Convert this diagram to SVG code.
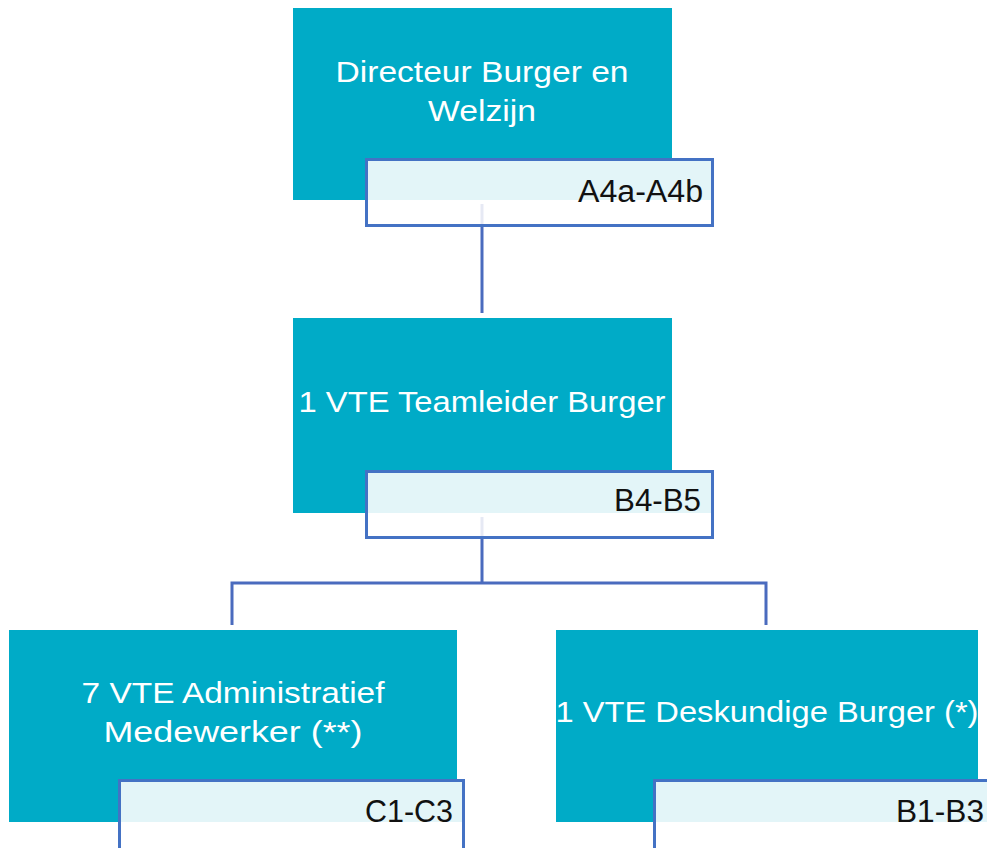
<svg xmlns="http://www.w3.org/2000/svg" width="987" height="848" viewBox="0 0 987 848">
<style>
.node{fill:#00ABC7}
.lbl{fill:#FFFFFF;stroke:#4472C4;stroke-width:3}
.band{fill:#E3F5F8}
.t{font-family:"Liberation Sans",Arial,sans-serif;font-size:30px;fill:#FFFFFF;text-anchor:middle}
.c{font-family:"Liberation Sans",Arial,sans-serif;font-size:31px;fill:#111111;text-anchor:end}
.con{fill:none;stroke:#4A6BBE;stroke-width:3}
.faint{fill:none;stroke:#E6E9F4;stroke-width:3}
</style>
<rect width="987" height="848" fill="#FFFFFF"/>
<g id="connectors">
<line class="con" x1="482" y1="226" x2="482" y2="313"/>
<path class="con" d="M482 538 V583 M232 625 V583 H766 V625"/>
</g>
<g id="n-directeur">
<rect class="node" x="293" y="8" width="379" height="192"/>
<rect class="lbl" x="366.5" y="159.5" width="346" height="66"/>
<rect class="band" x="368" y="161" width="343" height="39"/>
<line class="faint" x1="482" y1="204" x2="482" y2="224"/>
<text class="t" x="482" y="82" textLength="293" lengthAdjust="spacingAndGlyphs">Directeur Burger en</text>
<text class="t" x="482" y="121" textLength="108" lengthAdjust="spacingAndGlyphs">Welzijn</text>
<text class="c" x="703" y="202" textLength="125" lengthAdjust="spacingAndGlyphs">A4a-A4b</text>
</g>
<g id="n-teamleider">
<rect class="node" x="293" y="318" width="379" height="195"/>
<rect class="lbl" x="366.5" y="471.5" width="346" height="66"/>
<rect class="band" x="368" y="473" width="343" height="40"/>
<line class="faint" x1="482" y1="517" x2="482" y2="536"/>
<text class="t" x="482" y="412" textLength="367" lengthAdjust="spacingAndGlyphs">1 VTE Teamleider Burger</text>
<text class="c" x="701" y="511" textLength="87" lengthAdjust="spacingAndGlyphs">B4-B5</text>
</g>
<g id="n-administratief">
<rect class="node" x="9" y="630" width="448" height="192"/>
<rect class="lbl" x="119.5" y="780.5" width="344" height="80"/>
<rect class="band" x="121" y="782" width="341" height="40"/>
<text class="t" x="233" y="703" textLength="303" lengthAdjust="spacingAndGlyphs">7 VTE Administratief</text>
<text class="t" x="233" y="742" textLength="259" lengthAdjust="spacingAndGlyphs">Medewerker (**)</text>
<text class="c" x="453" y="822" textLength="88" lengthAdjust="spacingAndGlyphs">C1-C3</text>
</g>
<g id="n-deskundige">
<rect class="node" x="556" y="630" width="422" height="192"/>
<rect class="lbl" x="654.5" y="780.5" width="350" height="80"/>
<rect class="band" x="656" y="782" width="331" height="40"/>
<text class="t" x="767" y="722" textLength="423" lengthAdjust="spacingAndGlyphs">1 VTE Deskundige Burger (*)</text>
<text class="c" x="984" y="822" textLength="88" lengthAdjust="spacingAndGlyphs">B1-B3</text>
</g>
</svg>
